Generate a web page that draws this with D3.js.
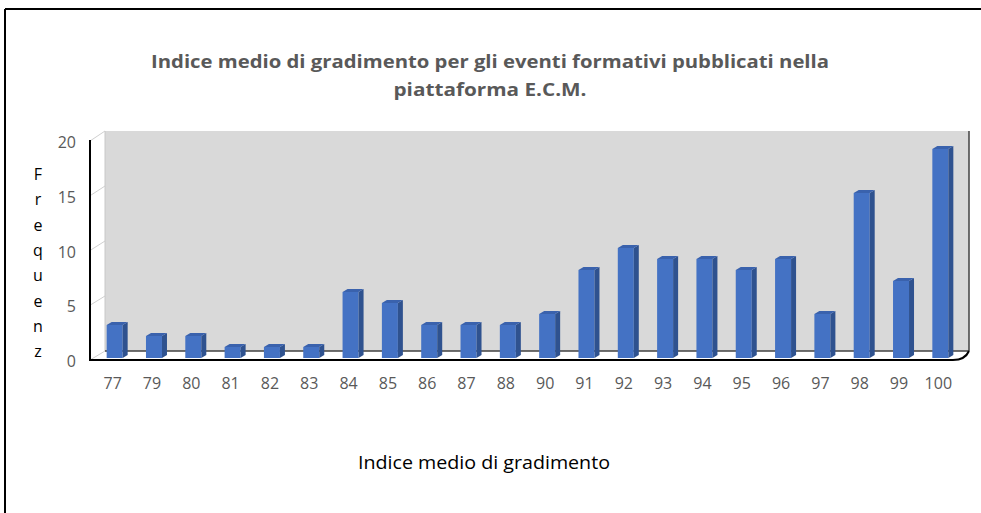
<!DOCTYPE html>
<html><head><meta charset="utf-8">
<script src="https://cdn.jsdelivr.net/npm/d3@7"></script>
<style>html,body{margin:0;padding:0;background:#fff;}svg{display:block;}</style>
</head><body>
<svg id="c" width="981" height="513"></svg>
<script>
const categories = ["77","79","80","81","82","83","84","85","86","87","88","90","91","92","93","94","95","96","97","98","99","100"];
const values = [3,2,2,1,1,1,6,5,3,3,3,4,8,10,9,9,8,9,4,15,7,19];
const yTicks = [0,5,10,15,20];
const titleLines = ["Indice medio di gradimento per gli eventi formativi pubblicati nella","piattaforma E.C.M."];
const xTitle = "Indice medio di gradimento";
const yTitle = "Frequenz";

const svg = d3.select("#c");
const font = "'Liberation Sans Narrow','Open Sans',sans-serif";

// outer frame (top + left)
svg.append("line").attr("x1",5).attr("y1",9).attr("x2",981).attr("y2",9).attr("stroke","#000").attr("stroke-width",2);
svg.append("line").attr("x1",5).attr("y1",9).attr("x2",5).attr("y2",513).attr("stroke","#000").attr("stroke-width",2);

const dx = 15, dy = 9;
const frontX = 90, backX = frontX + dx, backRight = 969;
const yFront = d3.scaleLinear().domain([0,20]).range([360,141]);
const yBack = d3.scaleLinear().domain([0,20]).range([351,131]);
const yBar = d3.scaleLinear().domain([0,20]).range([358,138]);
const x = d3.scaleBand().domain(categories).range([95,960]).paddingInner(0).paddingOuter(0);

// back wall
svg.append("rect").attr("x",backX).attr("y",yBack(20)).attr("width",backRight-backX).attr("height",yBack(0)-yBack(20)).attr("fill","#d9d9d9");
// side wall grid lines
svg.selectAll("line.sg").data(yTicks).enter().append("line").attr("class","sg")
  .attr("x1",frontX).attr("y1",d=>yFront(d)).attr("x2",backX).attr("y2",d=>yBack(d))
  .attr("stroke","#d0d0d0").attr("stroke-width",1);
// back wall left edge
svg.append("line").attr("x1",backX).attr("y1",yBack(20)).attr("x2",backX).attr("y2",yBack(0)).attr("stroke","#c8c8c8").attr("stroke-width",1);
// back wall bottom and right edges
svg.append("line").attr("x1",backX).attr("y1",yBack(0)).attr("x2",backRight).attr("y2",yBack(0)).attr("stroke","#404040").attr("stroke-width",1.5);
svg.append("line").attr("x1",backRight).attr("y1",yBack(20)).attr("x2",backRight).attr("y2",yBack(0)).attr("stroke","#404040").attr("stroke-width",1.5);
// floor front edge with curved corner
svg.append("path").attr("d",`M${frontX},${yFront(0)} L${backRight-16},${yFront(0)} Q${backRight-4},${yFront(0)} ${backRight},${yBack(0)}`)
  .attr("fill","none").attr("stroke","#000").attr("stroke-width",2);
// front left axis
svg.append("line").attr("x1",frontX).attr("y1",yFront(20)-1).attr("x2",frontX).attr("y2",yFront(0)+1).attr("stroke","#000").attr("stroke-width",2);

// bars
const bw = 16, bd = 5, bh = 3;
const g = svg.append("g");
const bars = g.selectAll("g.bar").data(categories.map((c,i)=>({c,v:values[i]}))).enter().append("g").attr("class","bar");
const bx = d => x(d.c) + x.bandwidth()/2 - bw/2;
bars.append("rect").attr("x",bx).attr("y",d=>yBar(d.v)).attr("width",bw).attr("height",d=>yBar(0)-yBar(d.v)).attr("fill","#4472c4");
bars.append("path").attr("d",d=>{const x0=bx(d)+bw,t=yBar(d.v),b=yBar(0);return `M${x0},${t} L${x0+bd},${t-bh} L${x0+bd},${b-bh} L${x0},${b} Z`;}).attr("fill","#2f528f");
bars.append("path").attr("d",d=>{const x0=bx(d),t=yBar(d.v);return `M${x0},${t} L${x0+bd},${t-bh} L${x0+bw+bd},${t-bh} L${x0+bw},${t} Z`;}).attr("fill","#3a62ad");

// y tick labels
svg.selectAll("text.yt").data(yTicks).enter().append("text").attr("class","yt")
  .attr("x",76).attr("y",d=>yFront(d)+1.5).attr("dy","0.35em").attr("text-anchor","end")
  .attr("font-family",font).attr("font-size",16).attr("fill","#595959").text(d=>d);

// x tick labels
svg.selectAll("text.xt").data(categories).enter().append("text").attr("class","xt")
  .attr("x",d=>x(d)+x.bandwidth()/2-2).attr("y",389).attr("text-anchor","middle")
  .attr("font-family",font).attr("font-size",16).attr("fill","#595959").text(d=>d);

// title
const tl = [[490,68,678],[490,96,193]];
titleLines.forEach((t,i)=>{
  svg.append("text").attr("x",tl[i][0]).attr("y",tl[i][1]).attr("text-anchor","middle")
    .attr("font-family",font).attr("font-weight","bold").attr("font-size",18).attr("fill","#595959")
    .attr("textLength",tl[i][2]).attr("lengthAdjust","spacingAndGlyphs").text(t);
});
// x axis title
svg.append("text").attr("x",484).attr("y",469).attr("text-anchor","middle")
  .attr("font-family",font).attr("font-size",18).attr("fill","#000")
  .attr("textLength",252).attr("lengthAdjust","spacingAndGlyphs").text(xTitle);
// y axis title (stacked letters)
svg.selectAll("text.ya").data(yTitle.split("")).enter().append("text").attr("class","ya")
  .attr("x",38).attr("y",(d,i)=>180+i*25.3).attr("text-anchor","middle")
  .attr("font-family","'Open Sans',sans-serif").attr("font-size",16).attr("fill","#000").text(d=>d);
</script>
</body></html>
